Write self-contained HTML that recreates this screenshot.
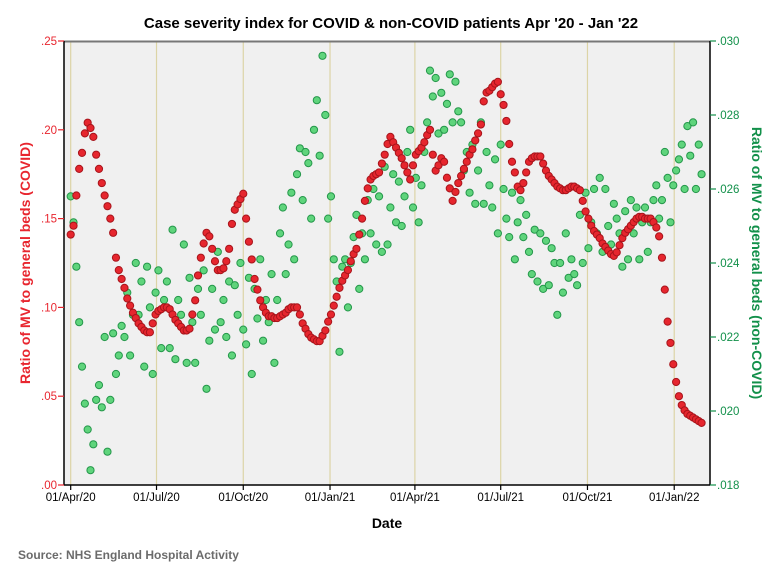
<!DOCTYPE html>
<html><head><meta charset="utf-8"><style>
body{margin:0;background:#fff;font-family:"Liberation Sans",Arial,sans-serif}
svg{display:block}
</style></head><body>
<svg id="chart" width="782" height="582" viewBox="0 0 782 582" font-family="Liberation Sans, Arial, sans-serif">
<rect x="0" y="0" width="782" height="582" fill="#fff"/>
<text x="391" y="28" text-anchor="middle" font-size="15" font-weight="bold" fill="#000">Case severity index for COVID &amp; non-COVID patients Apr '20 - Jan '22</text>
<rect x="64" y="41" width="646" height="444" fill="#f0f0f0"/>
<g id="grid"></g>
<g id="green"></g>
<g id="red"></g>
<line x1="64" y1="41.5" x2="710" y2="41.5" stroke="#777" stroke-width="2"/>
<line x1="64" y1="41" x2="64" y2="485" stroke="#000" stroke-width="1.5"/>
<line x1="710" y1="41" x2="710" y2="485" stroke="#000" stroke-width="1.5"/>
<line x1="64" y1="485" x2="710" y2="485" stroke="#000" stroke-width="1.5"/>
<g id="axes"></g>
<text transform="translate(30,263) rotate(-90)" text-anchor="middle" font-size="14" font-weight="bold" fill="#e8262f">Ratio of MV to general beds (COVID)</text>
<text transform="translate(752,263) rotate(90)" text-anchor="middle" font-size="14" font-weight="bold" fill="#12904a">Ratio of MV to general beds (non-COVID)</text>
<text x="387" y="528" text-anchor="middle" font-size="14" font-weight="bold" fill="#000">Date</text>
<text x="18" y="559" font-size="12" font-weight="bold" fill="#6b6b6b">Source: NHS England Hospital Activity</text>
</svg>
<script>
// day offsets from 01/Apr/20, every 3 days
const stepDays = 3;
const covidRatio = [.141,.146,.163,.178,.187,.198,.204,.201,.196,.186,.178,.170,.163,.157,.150,.142,.128,.121,.116,.111,.105,.101,.097,.094,.091,.089,.087,.086,.086,.091,.096,.098,.099,.100,.100,.099,.096,.093,.091,.089,.087,.087,.088,.096,.104,.118,.128,.136,.142,.140,.133,.126,.121,.121,.122,.126,.133,.147,.155,.158,.161,.164,.150,.137,.127,.116,.110,.104,.100,.097,.095,.095,.094,.094,.095,.096,.097,.099,.100,.100,.100,.096,.091,.088,.085,.083,.082,.081,.081,.084,.087,.092,.096,.101,.106,.111,.115,.118,.121,.126,.130,.133,.141,.150,.160,.167,.172,.174,.175,.176,.181,.186,.192,.196,.193,.190,.187,.184,.180,.176,.172,.180,.186,.188,.190,.193,.197,.200,.186,.177,.180,.184,.182,.173,.167,.160,.165,.170,.174,.178,.182,.186,.189,.194,.198,.203,.216,.221,.222,.224,.226,.227,.220,.214,.205,.192,.182,.176,.168,.166,.170,.176,.182,.184,.185,.185,.185,.181,.177,.174,.172,.170,.168,.167,.166,.166,.167,.168,.168,.167,.166,.160,.154,.150,.146,.143,.141,.139,.136,.134,.132,.130,.129,.131,.135,.139,.142,.144,.146,.148,.150,.151,.151,.150,.150,.150,.148,.145,.140,.128,.110,.092,.080,.068,.058,.050,.045,.042,.040,.039,.038,.037,.036,.035];
// non-COVID ratio in thousandths (x 0.001)
const nonCovidRatio = [25.8,25.1,23.9,22.4,21.2,20.2,19.5,18.4,19.1,20.3,20.7,20.1,22.0,18.9,20.3,22.1,21.0,21.5,22.3,22.0,23.2,21.5,22.6,24.0,22.6,23.5,21.2,23.9,22.8,21.0,23.2,23.8,21.7,23.0,23.5,21.7,24.9,21.4,23.0,22.6,24.5,21.3,23.6,22.4,21.3,23.3,22.6,23.8,20.6,21.9,23.3,22.2,24.3,22.4,23.0,22.0,23.5,21.5,23.4,22.6,24.0,22.2,21.8,23.6,21.0,23.3,22.5,24.1,21.9,23.0,22.4,23.7,21.3,23.0,24.8,25.5,23.7,24.5,25.9,24.1,26.4,27.1,25.7,27.0,26.7,25.2,27.6,28.4,26.9,29.6,28.0,25.2,25.8,24.1,23.5,21.6,23.9,24.1,22.8,24.0,24.7,25.3,23.3,24.8,24.1,25.7,24.8,26.0,24.5,25.8,24.3,26.6,24.5,25.5,26.4,25.1,26.2,25.0,25.8,27.0,27.6,25.5,26.3,25.1,26.1,27.0,27.8,29.2,28.5,29.0,27.5,28.6,27.6,28.3,29.1,27.8,28.9,28.1,27.8,26.5,27.0,25.9,27.2,25.6,26.5,27.8,25.6,27.0,26.1,25.5,26.8,24.8,27.2,26.0,25.2,24.7,25.9,24.1,25.1,25.7,24.7,25.3,24.3,23.7,24.9,23.5,24.8,23.3,24.6,23.4,24.4,24.0,22.6,24.0,23.2,24.8,23.6,24.1,23.7,23.4,25.3,24.0,25.9,24.4,25.1,26.0,24.8,26.3,24.3,26.0,25.0,24.5,25.6,25.2,24.8,23.9,25.4,24.1,25.7,24.8,25.5,24.1,25.1,25.5,24.3,25.1,25.7,26.1,25.2,25.7,27.0,26.3,25.1,26.1,26.5,26.8,27.2,26.0,27.7,26.9,27.8,26.0,27.2,26.4];
const dateLabels = ["01/Apr/20","01/Jul/20","01/Oct/20","01/Jan/21","01/Apr/21","01/Jul/21","01/Oct/21","01/Jan/22"];
const dateOffsets = [0,91,183,275,365,456,548,640];
const leftTicks = [0,.05,.10,.15,.20,.25];
const rightTicks = [.018,.020,.022,.024,.026,.028,.030];

const NS="http://www.w3.org/2000/svg";
const xS = d => 70.7 + d*0.943;
const yL = v => 485 - v/0.25*444;
const yR = v => 485 - (v-0.018)/0.012*444;
function mk(tag, attrs, parent){const e=document.createElementNS(NS,tag);for(const k in attrs)e.setAttribute(k,attrs[k]);parent.appendChild(e);return e;}
const grid=document.getElementById('grid'), axes=document.getElementById('axes');
dateOffsets.forEach((d,i)=>{
  const x=xS(d);
  const g=mk('line',{x1:x,y1:42,x2:x,y2:485,stroke:'#dcd4a6','stroke-width':1.2},grid);
  
  
  const t=mk('line',{x1:x,y1:485,x2:x,y2:490,stroke:'#000','stroke-width':1.2},axes);
  
  
  const l=mk('text',{x:x,y:501,'text-anchor':'middle','font-size':11.5,fill:'#000'},axes);
  l.textContent=dateLabels[i];
  
  
});
leftTicks.forEach(v=>{
  const y=yL(v);
  const t=mk('line',{x1:58,y1:y,x2:64,y2:y,stroke:'#e8262f','stroke-width':1.2},axes);
  
  
  const l=mk('text',{x:57,y:y+4,'text-anchor':'end','font-size':11.5,fill:'#e8262f'},axes);
  l.textContent=v.toFixed(2).replace(/^0/,'');
  
  
});
rightTicks.forEach(v=>{
  const y=yR(v);
  const t=mk('line',{x1:710,y1:y,x2:716,y2:y,stroke:'#12904a','stroke-width':1.2},axes);
  
  
  const l=mk('text',{x:717,y:y+4,'font-size':11.5,fill:'#12904a'},axes);
  l.textContent=v.toFixed(3).replace(/^0/,'');
  
  
});
const gg=document.getElementById('green');
nonCovidRatio.forEach((v,i)=>{
  const c=mk('circle',{cx:xS(i*stepDays),cy:yR(v/1000),r:3.6,fill:'#5fd47c',stroke:'#24974a','stroke-width':1},gg);
  
  
});
const rg=document.getElementById('red');
covidRatio.forEach((v,i)=>{
  const c=mk('circle',{cx:xS(i*stepDays),cy:yL(v),r:3.6,fill:'#e6262e',stroke:'#a8141b','stroke-width':1},rg);
  
  
});
</script>
</body></html>
